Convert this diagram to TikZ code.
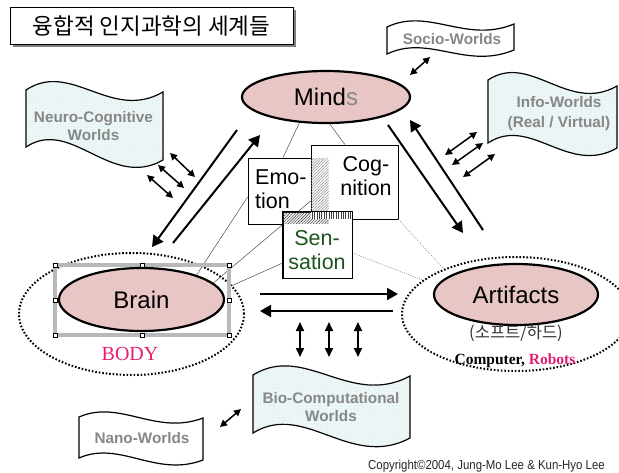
\documentclass[tikz,border=0pt]{standalone}
\usepackage{fontspec}
\setmainfont{Liberation Sans}
\newfontfamily\serifface{Liberation Serif}
\newfontfamily\krface{Noto Sans CJK KR}
\usetikzlibrary{arrows.meta,shapes.geometric,patterns.meta,calc}
\definecolor{pinkfill}{RGB}{232,198,198}
\definecolor{worldgray}{RGB}{135,135,135}
\definecolor{flagfill}{RGB}{238,247,247}
\definecolor{flagdot}{RGB}{160,196,196}
\definecolor{bodypink}{RGB}{226,30,110}
\definecolor{sengreen}{RGB}{30,85,30}
\definecolor{bandgray}{RGB}{185,185,185}
% #1 style, #2 x0, #3 x1, #4 top-left, #5 top-right, #6 bottom-left, #7 bottom-right, #8 wave
\newcommand\wavyflag[8]{%
  \path[#1] (#2,#4) .. controls +({0.33*(#3-#2)},{-#8}) and +({-0.38*(#3-#2)},{#8}) .. (#3,#5)
    -- (#3,#7) .. controls +({-0.38*(#3-#2)},{#8}) and +({0.33*(#3-#2)},{-#8}) .. (#2,#6) -- cycle;}
\begin{document}
\begin{tikzpicture}[x=1pt,y=-1pt,
  ell/.style={ellipse, draw=black, line width=2.2pt, fill=pinkfill, inner sep=0pt, font=\fontsize{24}{24}\selectfont},
  dotell/.style={ellipse, draw=black, line width=2pt, dash pattern=on 1.6pt off 1.9pt, inner sep=0pt},
  cbox/.style={rectangle, draw=black, line width=0.8pt, fill=white, inner sep=0pt},
  boxtxt/.style={inner sep=0pt, font=\fontsize{21.5}{24}\selectfont},
  thinln/.style={draw=black!75, line width=0.45pt},
  dotln/.style={draw=black!55, line width=0.5pt, dash pattern=on 1pt off 1.3pt},
  bigarrow/.style={line width=2pt, -{Triangle[length=11pt,width=12pt]}},
  dblarrow/.style={line width=1.5pt, {Triangle[length=7pt,width=7pt]}-{Triangle[length=7pt,width=7pt]}},
  vdblarrow/.style={line width=1.6pt, {Triangle[length=9pt,width=8pt]}-{Triangle[length=9pt,width=8pt]}},
  cflag/.style={draw=black, line width=1.2pt, fill=flagfill, postaction={pattern={Dots[distance=3pt,radius=0.45pt]}, pattern color=flagdot}},
  wflag/.style={draw=black, line width=1.2pt, fill=white},
  worldtxt/.style={inner sep=0pt, align=center, text=worldgray, font=\bfseries\fontsize{15.3}{18.5}\selectfont},
  handle/.style={rectangle, draw=black, line width=0.5pt, fill=white, minimum size=4.5pt, inner sep=0pt}
]
\useasboundingbox (0,0) rectangle (619,472);
\clip (0,0) rectangle (619,472);

% title
\fill[black!50] (13,10) rectangle (296,47);
\node[draw=black, line width=0.8pt, fill=white, minimum width=283pt, minimum height=37pt, inner sep=0pt,
  font=\krface\fontsize{22.5}{23}\selectfont] (title) at (151.5,25.5) {융합적 인지과학의 세계들};

% dotted group ellipses
\node[dotell, minimum width=225pt, minimum height=122pt] (body) at (131.5,314) {};
\node[dotell, minimum width=228pt, minimum height=114pt] (artbody) at (516,314) {};

% placeholders so that connectors can reach Brain and its frame (drawn later on top)
\path node[ellipse, minimum width=165pt, minimum height=63pt, inner sep=0pt, outer sep=1.1pt] (brain) at (141.5,299.5) {};
\path node[rectangle, minimum width=174pt, minimum height=70pt, inner sep=0pt, outer sep=0pt] (sel) at (142,300) {};

% Minds
\node[ell, minimum width=168pt, minimum height=52pt] (minds) at (326,97) {Mind\textcolor{worldgray}{s}};

% boxes
\node[cbox, minimum width=81pt, minimum height=66pt] (emo) at (288.5,191) {};
\node[cbox, minimum width=87pt, minimum height=74pt] (cog) at (354.5,182) {};

% thin connectors
\draw[thinln] (minds.224) -- ([xshift=-5.5pt]emo.north);
\draw[thinln] (minds.278) -- ([xshift=-9.5pt]cog.north);
\draw[thinln] ([yshift=-6pt]emo.west) -- (brain.24);
\draw[thinln] ([yshift=-19pt]cog.west) -- (brain.13);

\node[cbox, minimum width=69pt, minimum height=66pt] (sen) at (317.5,245) {};
\draw[thinln] ([yshift=-18pt]sen.west) -- ([yshift=13pt]sel.east);
\draw[dotln] ([yshift=-8pt]sen.east) -- (artbody.160);
\draw[dotln] (cog.south east) -- (artbody.148);

% overlaps
\path[pattern={Lines[angle=45,distance=2pt,line width=0.5pt]}, pattern color=black!45] (311,158.4) rectangle (328.6,211.6);
\path[pattern={Lines[angle=45,distance=2pt,line width=0.6pt]}, pattern color=black!70] (283,212) rectangle (328.6,223.6);
\fill[white] (311,212) rectangle (352,218.6);
\path[pattern={Lines[angle=90,distance=2.4pt,line width=0.6pt]}, pattern color=black!75] (311,212) rectangle (352,218.6);
\draw[line width=0.8pt] (sen.north west) rectangle (sen.south east);

% box texts
\node[boxtxt, align=left, anchor=west] (emotxt) at (255,189.5) {Emo-\\tion};
\node[boxtxt, align=center] (cogtxt) at (366,176) {Cog-\\nition};
\node[boxtxt, align=center, text=sengreen] (sentxt) at (317,250) {Sen-\\sation};

% Brain with selection frame
\node[draw=bandgray, line width=3.5pt, outer sep=0pt, minimum width=174pt, minimum height=70pt, inner sep=0pt] (sel) at (142,300) {};
\foreach \a in {north west,north,north east,east,south east,south,south west,west}
  \node[handle] at (sel.\a) {};
\node[ell, minimum width=165pt, minimum height=63pt] (brain) at (141.5,299.5) {Brain};
\node[inner sep=0pt, text=bodypink, font=\serifface\fontsize{20}{20}\selectfont] (bodytxt) at (130,354) {BODY};

% Artifacts
\node[ell, minimum width=164pt, minimum height=61pt] (art) at (516,294.5) {Artifacts};
\node[inner sep=0pt, text=black!80, font=\krface\fontsize{16.5}{17}\selectfont] (arttxt) at (516,333) {(소프트/하드)};
\node[inner sep=0pt, font=\serifface\bfseries\fontsize{15.5}{16}\selectfont] (comptxt) at (515,361) {Computer, \textcolor{bodypink}{Robots}};

% big arrows
\draw[bigarrow] (237,130) -- (152,247);
\draw[bigarrow] (173,243) -- (260,135);
\draw[bigarrow] (388,125) -- (463,233);
\draw[bigarrow] (483,230) -- (410,120);
\draw[bigarrow] (260,294) -- (398,294);
\draw[bigarrow] (393,311) -- (260,311);

% flags
\wavyflag{cflag}{26}{163}{90}{92}{147}{160}{30}
\node[worldtxt] (neurotxt) at (93.5,126) {Neuro-Cognitive\\Worlds};
\wavyflag{wflag}{387}{514}{27}{24}{54}{50}{20}
\node[worldtxt] (sociotxt) at (452,39) {Socio-Worlds};
\wavyflag{cflag}{488}{617}{80}{86}{143}{148}{28}
\node[worldtxt, font=\bfseries\fontsize{15.3}{20}\selectfont] (infotxt) at (559,114) {Info-Worlds\\(Real / Virtual)};
\wavyflag{cflag}{253}{410}{375}{376}{433}{438}{32}
\node[worldtxt] (biotxt) at (331,407) {Bio-Computational\\Worlds};
\wavyflag{wflag}{79}{203}{417}{418}{458}{460}{18}
\node[worldtxt] (nanotxt) at (142,438) {Nano-Worlds};

% double arrows
\draw[dblarrow] (170,153) -- (195,177);
\draw[dblarrow] (158,165) -- (184,188);
\draw[dblarrow] (147,175) -- (173,198);
\draw[dblarrow] (445,155) -- (477,132);
\draw[dblarrow] (452,165) -- (483,143);
\draw[dblarrow] (463,177) -- (495,154);
\draw[dblarrow] (410,75) -- (430,57);
\draw[dblarrow] (220,427) -- (241,409);
\draw[vdblarrow] (300,322) -- (300,357);
\draw[vdblarrow] (329,322) -- (329,357);
\draw[vdblarrow] (358,322) -- (358,357);

% copyright
\node[inner sep=0pt, text=black!85, font=\fontsize{13}{13}\selectfont] (copy) at (486.5,466) {\scalebox{0.88}[1]{Copyright©2004, Jung-Mo Lee \& Kun-Hyo Lee}};
\end{tikzpicture}
\end{document}
